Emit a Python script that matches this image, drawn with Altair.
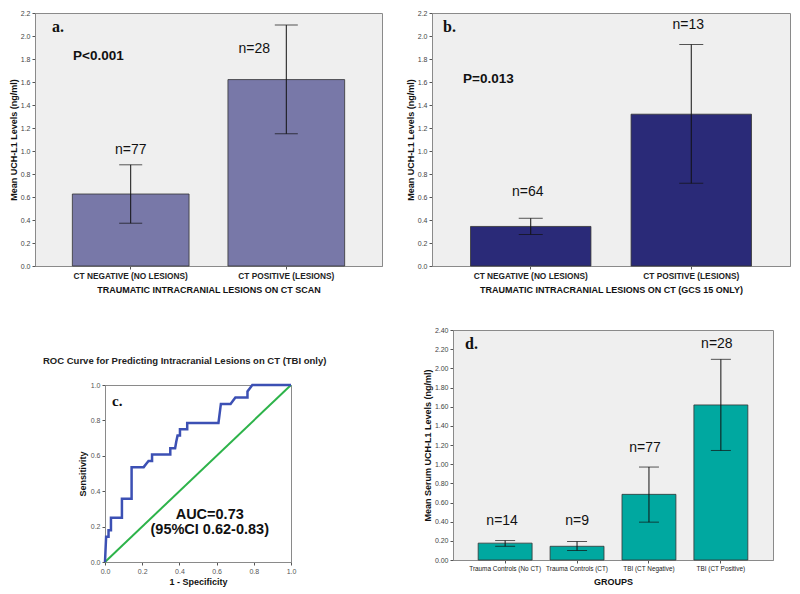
import altair as alt
import pandas as pd

FONT = "Liberation Sans"
SERIF = "Liberation Serif"
BG = "#efefef"
FRAME = "#8a8a8a"

# ---------------- data ----------------
# panel a
a_groups = ["CT NEGATIVE (NO LESIONS)", "CT POSITIVE (LESIONS)"]
a_mean = [0.626, 1.621]
a_low = [0.372, 1.150]
a_high = [0.880, 2.095]
a_n = ["n=77", "n=28"]
a_ticks = [0.0, 0.2, 0.4, 0.6, 0.8, 1.0, 1.2, 1.4, 1.6, 1.8, 2.0, 2.2]

# panel b
b_groups = ["CT NEGATIVE (NO LESIONS)", "CT POSITIVE (LESIONS)"]
b_mean = [0.344, 1.320]
b_low = [0.274, 0.719]
b_high = [0.415, 1.926]
b_n = ["n=64", "n=13"]
b_ticks = [0.0, 0.2, 0.4, 0.6, 0.8, 1.0, 1.2, 1.4, 1.6, 1.8, 2.0, 2.2]

# panel c (ROC)
roc_fpr = [0.000, 0.006, 0.019, 0.019, 0.032, 0.032, 0.091, 0.091, 0.143, 0.143,
           0.208, 0.221, 0.234, 0.253, 0.253, 0.351, 0.351, 0.377, 0.383, 0.390,
           0.403, 0.403, 0.442, 0.442, 0.610, 0.623, 0.675, 0.701, 0.766, 0.766,
           0.779, 0.792, 1.000]
roc_tpr = [0.000, 0.143, 0.143, 0.179, 0.179, 0.250, 0.250, 0.357, 0.357, 0.536,
           0.536, 0.554, 0.571, 0.571, 0.607, 0.607, 0.643, 0.643, 0.679, 0.714,
           0.714, 0.750, 0.750, 0.786, 0.786, 0.893, 0.893, 0.929, 0.929, 0.964,
           0.982, 1.000, 1.000]
diag_x = [0.0, 1.0]
diag_y = [0.0, 1.0]
c_ticks = [0.0, 0.2, 0.4, 0.6, 0.8, 1.0]
c_title = "ROC Curve for Predicting Intracranial Lesions on CT (TBI only)"

# panel d
d_groups = ["Trauma Controls (No CT)", "Trauma Controls (CT)", "TBI (CT Negative)", "TBI (CT Positive)"]
d_mean = [0.176, 0.143, 0.685, 1.618]
d_low = [0.143, 0.100, 0.395, 1.143]
d_high = [0.203, 0.193, 0.970, 2.094]
d_n = ["n=14", "n=9", "n=77", "n=28"]
d_ticks = [0.0, 0.2, 0.4, 0.6, 0.8, 1.0, 1.2, 1.4, 1.6, 1.8, 2.0, 2.2, 2.4]

# annotation placement (value level of each n= label, horizontal nudge)
a_n_y, a_n_dx = [1.007, 1.89], [0, -32]
b_n_y, b_n_dx = [0.643, 2.10], [-3, -3]
d_n_y, d_n_dx = [0.41, 0.41, 1.17, 2.25], [-3, 0, -4, -4]

one = pd.DataFrame({"k": [0]})


def note(text, x, y, size, weight="bold", font=FONT, align="left", color="#111"):
    return alt.Chart(one).mark_text(
        text=text, font=font, fontSize=size, fontWeight=weight, align=align,
        baseline="middle", color=color
    ).encode(x=alt.value(x), y=alt.value(y))


def bar_panel(groups, mean, low, high, nlab, n_y, n_dx, ticks, fmt, color, W, H,
              pad_outer, cap, ytitle, xtitle, xlab_size, xlab_weight, notes):
    df = pd.DataFrame({"group": groups, "mean": mean, "low": low, "high": high,
                       "n": nlab, "ny": n_y})
    xs = alt.Scale(domain=groups, paddingInner=0.25, paddingOuter=pad_outer)
    xaxis = alt.Axis(labelAngle=0, labelFontSize=xlab_size, labelFontWeight=xlab_weight,
                     labelColor="#222", labelPadding=2, tickSize=3, tickColor="#555",
                     domainColor=FRAME, labelOverlap=False, labelLimit=300,
                     titleFontSize=9, titleFontWeight="bold", titleColor="#111",
                     titlePadding=6)
    X = alt.X("group:N", scale=xs, axis=xaxis, title=xtitle, sort=groups)
    ys = alt.Scale(domain=[0, ticks[-1]], nice=False)
    yaxis = alt.Axis(values=ticks, format=fmt, grid=False, tickSize=3, tickColor="#555",
                     labelFontSize=7, labelColor="#444", labelPadding=2,
                     domainColor=FRAME, labelOverlap=False,
                     titleFontSize=9, titleFontWeight="bold", titleColor="#111",
                     titlePadding=2)

    def Y(f):
        return alt.Y(f"{f}:Q", scale=ys, axis=yaxis, title=ytitle)

    base = alt.Chart(df)
    layers = [
        base.mark_bar(color=color, stroke="#333", strokeWidth=0.8).encode(x=X, y=Y("mean")),
        base.mark_rule(color="#111", strokeWidth=1).encode(x=X, y=Y("low"), y2="high:Q"),
        base.mark_tick(color="#111", size=cap, thickness=1).encode(x=X, y=Y("low")),
        base.mark_tick(color="#111", size=cap, thickness=1).encode(x=X, y=Y("high")),
    ]
    for i in range(len(groups)):
        layers.append(
            alt.Chart(df.iloc[[i]]).mark_text(fontSize=14, dx=n_dx[i], color="#111")
            .encode(x=X, y=Y("ny"), text="n:N")
        )
    layers += notes
    return alt.layer(*layers).properties(
        width=W, height=H,
        view=alt.ViewBackground(fill=BG, stroke=FRAME, strokeWidth=1)
    )


def blank(w, h):
    return alt.Chart(one).mark_point(opacity=0, size=1).encode(
        x=alt.value(w / 2), y=alt.value(h / 2)
    )


TRANSPARENT = alt.ViewBackground(fill="transparent", stroke="transparent", strokeWidth=0)


def spacer(w, h):
    return blank(w, h).properties(width=w, height=h, view=TRANSPARENT)


# ---------------- panels ----------------
panel_a = bar_panel(
    a_groups, a_mean, a_low, a_high, a_n, a_n_y, a_n_dx, a_ticks, ".1f", "#7878a8",
    347, 253, 0.24, 23, "Mean UCH-L1 Levels (ng/ml)",
    "TRAUMATIC INTRACRANIAL LESIONS ON CT SCAN", 8.3, "bold",
    [note("a.", 17, 14, 16, font=SERIF), note("P<0.001", 38, 43, 13.5)]
)

panel_b = bar_panel(
    b_groups, b_mean, b_low, b_high, b_n, b_n_y, b_n_dx, b_ticks, ".1f", "#2a2a78",
    358, 253, 0.24, 24, "Mean UCH-L1 Levels (ng/ml)",
    "TRAUMATIC INTRACRANIAL LESIONS ON CT (GCS 15 ONLY)", 8.3, "bold",
    [note("b.", 11, 14, 16, font=SERIF), note("P=0.013", 31, 66, 13.5)]
)

panel_d = bar_panel(
    d_groups, d_mean, d_low, d_high, d_n, d_n_y, d_n_dx, d_ticks, ".2f", "#00a8a0",
    320, 230, 0.35, 20, "Mean Serum UCH-L1 Levels (ng/ml)",
    "GROUPS", 6.4, "normal",
    [note("d.", 12, 14, 16, font=SERIF)]
)

roc_df = pd.DataFrame({"fpr": roc_fpr, "tpr": roc_tpr, "step": list(range(len(roc_fpr)))})
diag_df = pd.DataFrame({"fpr": diag_x, "tpr": diag_y})
c_axis = dict(values=c_ticks, format=".1f", grid=False, tickSize=3, tickColor="#555",
              labelFontSize=7, labelColor="#555", labelPadding=2, domainColor=FRAME,
              labelFlush=False, labelOverlap=False,
              titleFontSize=9, titleFontWeight="bold", titleColor="#111")
cx = alt.X("fpr:Q", scale=alt.Scale(domain=[0, 1], nice=False),
           axis=alt.Axis(titlePadding=3, **c_axis), title="1 - Specificity")
cy = alt.Y("tpr:Q", scale=alt.Scale(domain=[0, 1], nice=False),
           axis=alt.Axis(titlePadding=3, **c_axis), title="Sensitivity")
C_W, C_H = 186, 177
panel_c = alt.layer(
    alt.Chart(diag_df).mark_line(color="#2db34a", strokeWidth=2).encode(x=cx, y=cy),
    alt.Chart(roc_df).mark_line(color="#3c50b4", strokeWidth=2.5).encode(
        x=cx, y=cy, order="step:Q"),
    note("c.", 7, 16, 15, font=SERIF),
    note("AUC=0.73", C_W * 0.563, C_H * 0.734, 14.5, align="center"),
    note("(95%CI 0.62-0.83)", C_W * 0.563, C_H * 0.82, 14.5, align="center"),
).properties(
    width=C_W, height=C_H,
    view=alt.ViewBackground(fill="white", stroke=FRAME, strokeWidth=1)
)

# title block above the ROC plot (text starts 62px left of the plot frame)
C_HEAD_H = 55
c_head = alt.layer(
    blank(250, C_HEAD_H),
    note(c_title, -62, C_HEAD_H - 24, 9.5, color="#222"),
).properties(width=250, height=C_HEAD_H, view=TRANSPARENT)

# ---------------- layout (bounds-based flow) ----------------
row1 = alt.concat(panel_a, panel_b, columns=2, spacing=50, bounds="flush")
c_col = alt.concat(c_head, panel_c, columns=1, spacing=0, bounds="flush")
row2 = alt.concat(spacer(8, 10), c_col, spacer(67, 10), panel_d,
                  columns=4, spacing=0, align="none")
chart = alt.concat(row1, row2, columns=1, spacing=30, align="none").properties(
    padding=0).configure(font=FONT)

chart.save("out.html", embed_options={"renderer": "svg", "actions": False})
